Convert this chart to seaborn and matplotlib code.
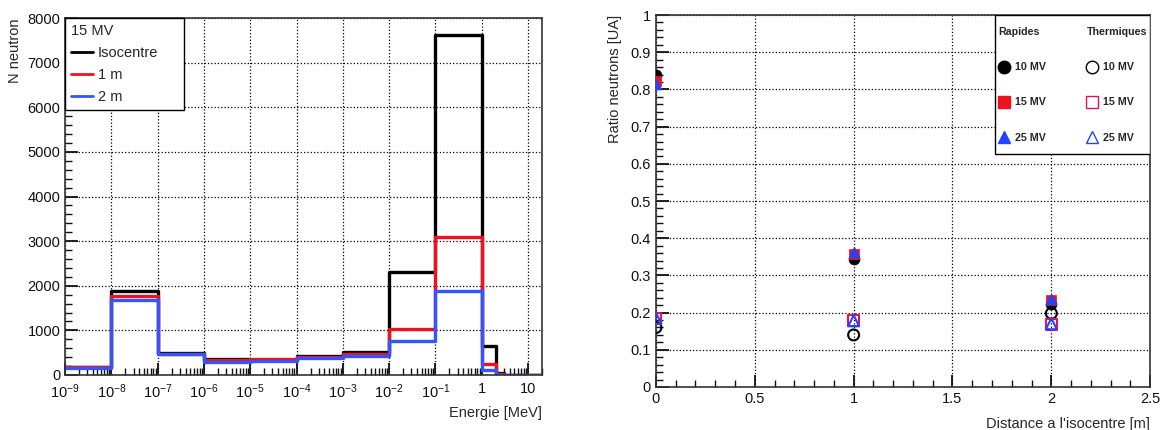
"""Neutron spectra (15 MV) and fast/thermal neutron ratio versus distance to isocentre."""

import numpy as np
import matplotlib
matplotlib.use('Agg')
import matplotlib.pyplot as plt
from matplotlib.lines import Line2D
from matplotlib.patches import Rectangle
from matplotlib.ticker import FixedLocator, FixedFormatter, MultipleLocator
import seaborn as sns

# --- left panel: energy spectra, bin edges in MeV ---
BIN_EDGES = [1e-9, 1e-8, 1e-7, 1e-6, 1e-5, 1e-4, 1e-3, 1e-2, 1e-1, 1, 2, 3, 20]
ISOCENTRE = [170, 1890, 500, 350, 340, 430, 510, 2300, 7630, 650, 45, 0]
UN_M = [170, 1780, 480, 335, 360, 410, 480, 1030, 3100, 250, 20, 0]
DEUX_M = [150, 1680, 460, 300, 315, 380, 425, 770, 1880, 110, 8, 0]
SPECTRA = [('Isocentre', ISOCENTRE, 'black'), ('1 m', UN_M, '#ee1122'), ('2 m', DEUX_M, '#3355ff')]
X_TICKS = [1e-9, 1e-8, 1e-7, 1e-6, 1e-5, 1e-4, 1e-3, 1e-2, 1e-1, 1, 10]
X_TICK_LABELS = ['$10^{-9}$', '$10^{-8}$', '$10^{-7}$', '$10^{-6}$', '$10^{-5}$', '$10^{-4}$',
                 '$10^{-3}$', '$10^{-2}$', '$10^{-1}$', '1', '10']

# --- right panel: neutron ratio vs distance ---
DISTANCE = [0, 1, 2]
RAPIDES_10 = [0.840, 0.343, 0.222]
RAPIDES_15 = [0.822, 0.357, 0.233]
RAPIDES_25 = [0.815, 0.362, 0.237]
THERMIQUES_10 = [0.160, 0.140, 0.198]
THERMIQUES_15 = [0.185, 0.178, 0.168]
THERMIQUES_25 = [0.185, 0.178, 0.170]
ENERGIES = ['10 MV', '15 MV', '25 MV']
HEADERS = ['Rapides', 'Thermiques']

RED = '#ee1122'
BLUE = '#2244ff'

sns.set_style('ticks')
plt.rcParams['font.family'] = ['Liberation Sans', 'DejaVu Sans']
plt.rcParams['mathtext.fontset'] = 'custom'
plt.rcParams['mathtext.rm'] = 'Liberation Sans'
plt.rcParams['mathtext.it'] = 'Liberation Sans'

fig = plt.figure(figsize=(11.63, 4.30), dpi=100)
ax1 = fig.add_axes([0.056, 0.128, 0.410, 0.830])
ax2 = fig.add_axes([0.564, 0.100, 0.425, 0.865])


def style_axes(ax):
    for sp in ax.spines.values():
        sp.set_color('#333333')
        sp.set_linewidth(1.2)
    ax.tick_params(which='both', direction='in', top=False, right=False,
                   labelsize=10.5, colors='#111111')
    ax.tick_params(which='major', length=9, width=1.3)
    ax.tick_params(which='minor', length=5, width=1.0)
    ax.grid(True, which='major', linestyle=':', color='black', linewidth=0.9)
    ax.set_axisbelow(True)


# left panel
log_edges = list(np.log10(BIN_EDGES))
centers = [10 ** ((a + b) / 2) for a, b in zip(log_edges[:-1], log_edges[1:])]
for name, counts, color in SPECTRA:
    sns.histplot(x=centers, weights=counts, bins=log_edges, log_scale=True,
                 element='step', fill=False, color=color, linewidth=2.4,
                 label=name, ax=ax1)

ax1.set_xlim(1e-9, 20)
ax1.set_ylim(0, 8000)
ax1.xaxis.set_major_locator(FixedLocator(X_TICKS))
ax1.xaxis.set_major_formatter(FixedFormatter(X_TICK_LABELS))
ax1.xaxis.set_minor_locator(matplotlib.ticker.LogLocator(base=10, subs=range(2, 10), numticks=30))
ax1.xaxis.set_minor_formatter(matplotlib.ticker.NullFormatter())
ax1.yaxis.set_major_locator(MultipleLocator(1000))
ax1.yaxis.set_minor_locator(MultipleLocator(200))
style_axes(ax1)
ax1.tick_params(axis='x', which='major', pad=5)
ax1.set_xlabel('Energie [MeV]', loc='right', fontsize=10.5)
ax1.set_ylabel('N neutron', loc='top', fontsize=10.5)

handles = [Line2D([], [], color=c, linewidth=2) for _, _, c in SPECTRA]
leg1 = ax1.legend(handles, [n for n, _, _ in SPECTRA], title='15 MV', loc='upper left',
                  bbox_to_anchor=(0, 0, 0.25, 1), mode='expand', borderaxespad=0,
                  fontsize=10.5, title_fontsize=10.5, fancybox=False, edgecolor='black',
                  framealpha=1, handlelength=1.5, handletextpad=0.35, labelspacing=0.55,
                  borderpad=0.4)
leg1._legend_box.align = 'left'
leg1.get_frame().set_linewidth(1.0)

# right panel
ms = 62
fast = [(RAPIDES_10, 'o', 'black'), (RAPIDES_15, 's', RED), (RAPIDES_25, '^', BLUE)]
thermal = [(THERMIQUES_10, 'o', 'black'), (THERMIQUES_15, 's', '#e0115f'), (THERMIQUES_25, '^', BLUE)]
for vals, marker, color in fast:
    sns.scatterplot(x=DISTANCE, y=vals, marker=marker, s=ms, color=color,
                    edgecolor=color, linewidth=0.5, ax=ax2, zorder=3)
for vals, marker, color in thermal:
    sns.scatterplot(x=DISTANCE, y=vals, marker=marker, s=ms, facecolors='none',
                    edgecolors=color, linewidth=1.5, ax=ax2, zorder=3)

ax2.set_xlim(0, 2.5)
ax2.set_ylim(0, 1)
ax2.xaxis.set_major_locator(MultipleLocator(0.5))
ax2.xaxis.set_minor_locator(MultipleLocator(0.1))
ax2.yaxis.set_major_locator(MultipleLocator(0.1))
ax2.yaxis.set_minor_locator(MultipleLocator(0.02))
ax2.xaxis.set_major_formatter(matplotlib.ticker.FuncFormatter(lambda v, p: f'{v:g}'))
ax2.yaxis.set_major_formatter(matplotlib.ticker.FuncFormatter(lambda v, p: f'{v:g}'))
style_axes(ax2)
ax2.set_xlabel("Distance a l'isocentre [m]", loc='right', fontsize=10.5, labelpad=8)
ax2.set_ylabel('Ratio neutrons [UA]', loc='top', fontsize=10.5, labelpad=6)

blank = Line2D([], [], linestyle='none')
leg_handles = [blank]
leg_labels = [HEADERS[0]]
for _, marker, color in fast:
    leg_handles.append(Line2D([], [], linestyle='none', marker=marker, markersize=9,
                              color=color, markeredgecolor=color))
leg_labels += ENERGIES
leg_handles.append(blank)
leg_labels.append(HEADERS[1])
for _, marker, color in thermal:
    leg_handles.append(Line2D([], [], linestyle='none', marker=marker, markersize=9,
                              markerfacecolor='none', markeredgecolor=color, markeredgewidth=1.0))
leg_labels += ENERGIES

# legend frame drawn separately: the box has more room above/below than at the sides
ax2.add_patch(Rectangle((0.687, 0.626), 0.313, 0.374, transform=ax2.transAxes,
                        facecolor='white', edgecolor='black', linewidth=1.0, zorder=4.5))
leg2 = ax2.legend(leg_handles, leg_labels, ncol=2, loc='upper right',
                  bbox_to_anchor=(0.687, 0, 0.313, 0.976), mode='expand', borderaxespad=0,
                  prop={'size': 7.7, 'weight': 'bold'}, frameon=False,
                  handlelength=1.0, handletextpad=0.5, labelspacing=2.35, borderpad=0.3)
# header rows: no handle space, so the header sits flush with the markers
for col in leg2._legend_handle_box.get_children():
    for row in col.get_children():
        hbox, tbox = row.get_children()
        if tbox.get_text() in HEADERS:
            hbox.width = 0
            row.sep = 0

fig.savefig('out.png', dpi=100)
